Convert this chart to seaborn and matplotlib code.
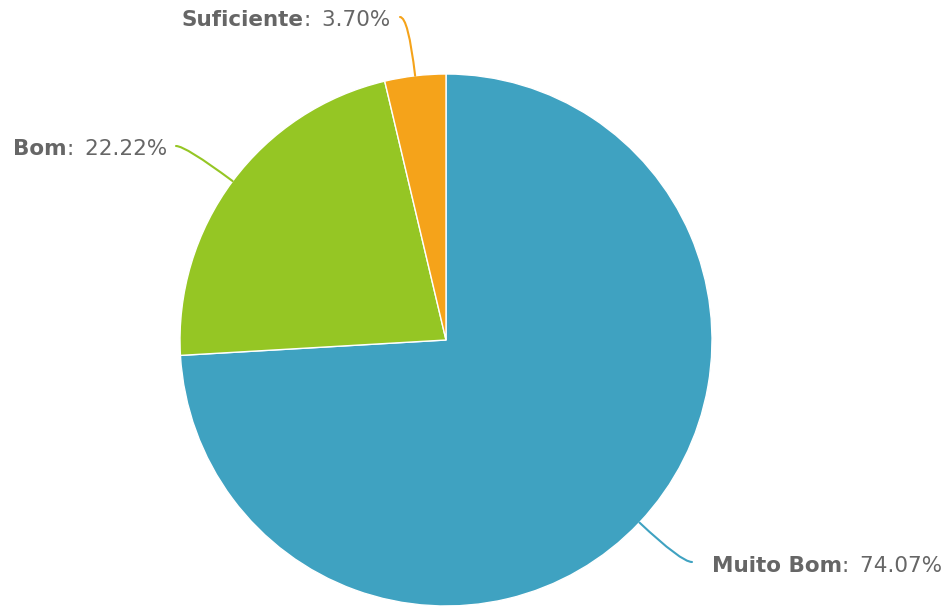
import numpy as np
import matplotlib
matplotlib.use("Agg")
import matplotlib.pyplot as plt
import seaborn as sns

sns.set_theme(style="white")
plt.rcParams['font.family'] = ['DejaVu Sans']

categories = ["Muito Bom", "Bom", "Suficiente"]
values = [74.07, 22.22, 3.70]
colors = ["#3fa2c1", "#95c624", "#f5a31a"]

W, H = 949, 606
cx, cy, R = 446, 340, 266  # pixel layout of the pie

fig = plt.figure(figsize=(W / 100, H / 100), dpi=100)
ax = fig.add_axes([0, 0, 1, 1])

wedges, _ = ax.pie(values, colors=colors, startangle=90, counterclock=False,
                   radius=1.0, center=(0, 0), frame=True,
                   wedgeprops=dict(edgecolor="white", linewidth=1))
ax.set_xlim(-cx / R, (W - cx) / R)
ax.set_ylim(-(H - cy) / R, cy / R)
ax.set_aspect("auto")
ax.axis("off")

def px(x, y):
    return ((x - cx) / R, (cy - y) / R)

label_specs = {
    "Muito Bom": dict(anchor=(692, 562), text=(712, 566), side="left"),
    "Bom": dict(anchor=(176, 146), text=(167, 149), side="right"),
    "Suficiente": dict(anchor=(400, 17), text=(390, 20), side="right"),
}

fs = 15.5
tcol = "#666666"
total = sum(values)
cum = 0
for name, v, col in zip(categories, values, colors):
    mid = 90 - (cum + v / 2) / total * 360
    cum += v
    ang = np.deg2rad(mid)
    edge = (np.cos(ang), np.sin(ang))
    spec = label_specs[name]
    a = px(*spec["anchor"])
    ax.annotate("", xy=edge, xytext=a,
                arrowprops=dict(arrowstyle="-", color=col, lw=1.5,
                                shrinkA=0, shrinkB=0,
                                connectionstyle=f"angle3,angleA=0,angleB={mid}"))
    t = px(*spec["text"])
    val = f":\u2002{v:.2f}%"
    if spec["side"] == "left":
        t1 = ax.text(t[0], t[1], name, fontsize=fs, fontweight="bold",
                     color=tcol, ha="left", va="center")
        ax.annotate(val, xy=(1, 0), xycoords=t1, fontsize=fs, color=tcol,
                    ha="left", va="bottom")
    else:
        t2 = ax.text(t[0], t[1], val, fontsize=fs, color=tcol,
                     ha="right", va="center")
        ax.annotate(name, xy=(0, 0), xycoords=t2, fontsize=fs,
                    fontweight="bold", color=tcol, ha="right", va="bottom")

fig.savefig("out.png", dpi=100, facecolor="white")
